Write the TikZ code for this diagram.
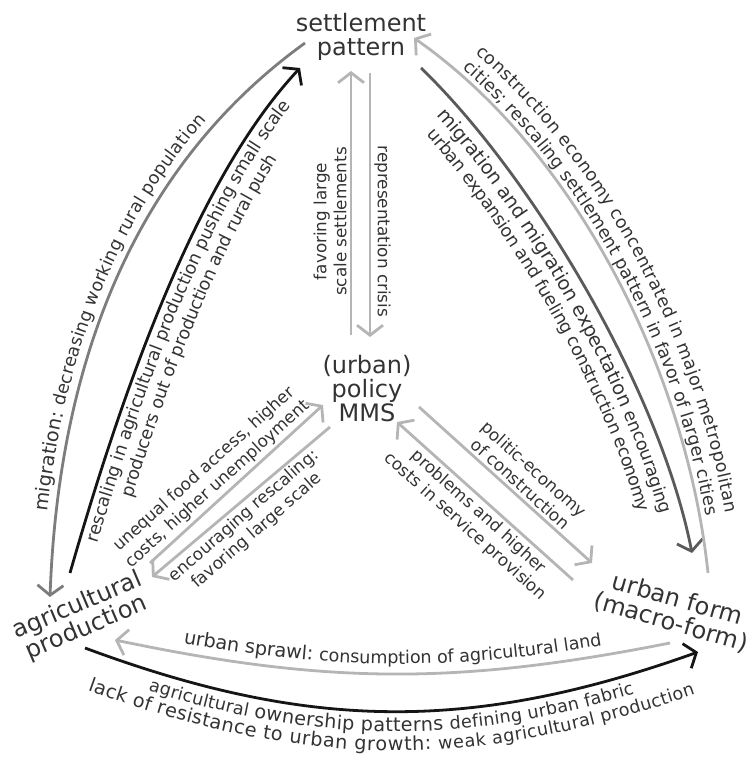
\documentclass[tikz,border=0pt]{standalone}
\usepackage{fontspec}
\setmainfont{DejaVu Sans}
\usetikzlibrary{arrows.meta,decorations.text,calc}
\definecolor{txt}{HTML}{333333}
\definecolor{blk}{HTML}{151515}
\definecolor{dgray}{HTML}{5a5a5a}
\definecolor{mgray}{HTML}{7d7d7d}
\definecolor{lgray}{HTML}{b5b5b5}
\newcommand\bigtx{\fontsize{9.6}{11}\selectfont}
\newcommand\smtx{\fontsize{8.8}{10}\selectfont}
\tikzset{
  mainlbl/.style={font=\fontsize{12}{12}\selectfont, text=txt, align=center, inner sep=0pt},
  lbl/.style={font=\fontsize{8.4}{10}\selectfont, text=txt, align=center, inner sep=1.5pt},
  conn/.style={line width=1.4pt, draw=#1},
  arctext/.style 2 args={postaction={decorate, decoration={text along path, text={#1},
    raise=#2, text align=center, text color=txt}}}
}

\begin{document}
\begin{tikzpicture}[x=0.5pt, y=0.5pt, >={Straight Barb[length=5pt,width=13pt]}]
  \useasboundingbox (0,0) rectangle (748,758);

  \node[mainlbl] (settle) at (361,721) {settlement\\pattern};
  \node[mainlbl] (policy) at (367,369) {(urban)\\policy\\MMS};
  \node[mainlbl, rotate=23] (agri) at (82,141) {agricultural\\production};
  \node[mainlbl, rotate=-16] (urban) at (674,147) {urban form\\(macro-form)};

  % ends of the connectors
  \coordinate (mig-a) at (50,161);   \coordinate (mig-s) at (305,715);
  \coordinate (res-a) at (70,185);   \coordinate (res-s) at (300,690);
  \coordinate (exp-s) at (421,690);  \coordinate (exp-u) at (692,205);
  \coordinate (con-s) at (414,720);  \coordinate (con-u) at (708,185);
  \coordinate (spr-a) at (115,118);  \coordinate (spr-u) at (670,115);
  \coordinate (own-a) at (85,110);   \coordinate (own-u) at (698,106);
  \coordinate (fav-p) at (351,423);  \coordinate (fav-s) at (351,687);
  \coordinate (rep-s) at (370,685);  \coordinate (rep-p) at (370,421);
  \coordinate (food-a) at (150,195); \coordinate (food-p) at (323,353);
  \coordinate (enc-p) at (330,331);  \coordinate (enc-a) at (152,181);
  \coordinate (pol-p) at (419,351);  \coordinate (pol-u) at (592,195);
  \coordinate (pro-u) at (573,178);  \coordinate (pro-p) at (397,336);

  % settlement -- agricultural
  \draw[conn=mgray, <-, arctext={|\bigtx|migration: |\smtx|decreasing working rural population}{4.5pt},
    decoration={text align={center, right indent=20pt}}]
    (mig-a) .. controls (58,380) and (125,585) .. (mig-s);
  \draw[conn=blk, ->,
    arctext={|\smtx|rescaling in agricultural production pushing small scale}{-9pt},
    arctext={|\smtx|producers out of production and rural push}{-19pt}]
    (res-a) .. controls (125,377) and (199,582) .. (res-s);

  % settlement -- urban form
  \draw[conn=dgray, ->,
    arctext={|\bigtx|migration and migration expectation |\smtx|encouraging}{-11pt},
    arctext={|\smtx|urban expansion and fueling construction economy}{-21pt}]
    (exp-s) .. controls (529,586) and (659,372) .. (exp-u);
  \draw[conn=lgray, <-,
    arctext={|\smtx|cities; rescaling settlement pattern in favor of larger cities}{3pt},
    arctext={|\smtx|construction economy concentrated in major metropolitan}{13pt}]
    (con-s) .. controls (578,605) and (687,384) .. (con-u);

  % agricultural -- urban form
  \draw[conn=lgray, <-, arctext={|\bigtx|urban sprawl: |\smtx|consumption of agricultural land}{5pt}]
    (spr-a) to[bend right=11.5] (spr-u);
  \draw[conn=blk, ->,
    arctext={|\smtx|agricultural |\bigtx|ownership patterns |\smtx|defining urban fabric}{-10pt},
    arctext={|\bigtx|lack of resistance to urban growth: |\smtx|weak agricultural production}{-19.5pt}]
    (own-a) to[bend right=20] (own-u);

  % policy
  \draw[conn=lgray, ->] (fav-p) -- node[lbl, pos=.43, rotate=90, anchor=south] (fav) {favoring large\\scale settlements} (fav-s);
  \draw[conn=lgray, ->] (rep-s) -- node[lbl, pos=.6, rotate=-90, anchor=south] (rep) {representation crisis} (rep-p);
  \draw[conn=lgray, ->] (food-a) -- node[lbl, pos=.44, rotate=42, anchor=south] (food) {unequal food access, higher\\costs, higher unemployment} (food-p);
  \draw[conn=lgray, ->] (enc-p) -- node[lbl, pos=.53, rotate=41, anchor=north] (enc) {encouraging rescaling:\\favoring large scale} (enc-a);
  \draw[conn=lgray, ->] (pol-p) -- node[lbl, pos=.545, rotate=-42, anchor=south] (pol) {politic-economy\\of construction} (pol-u);
  \draw[conn=lgray, ->] (pro-u) -- node[lbl, pos=.49, rotate=-42, anchor=north] (pro) {problems and higher\\costs in service provision} (pro-p);
\end{tikzpicture}
\end{document}
